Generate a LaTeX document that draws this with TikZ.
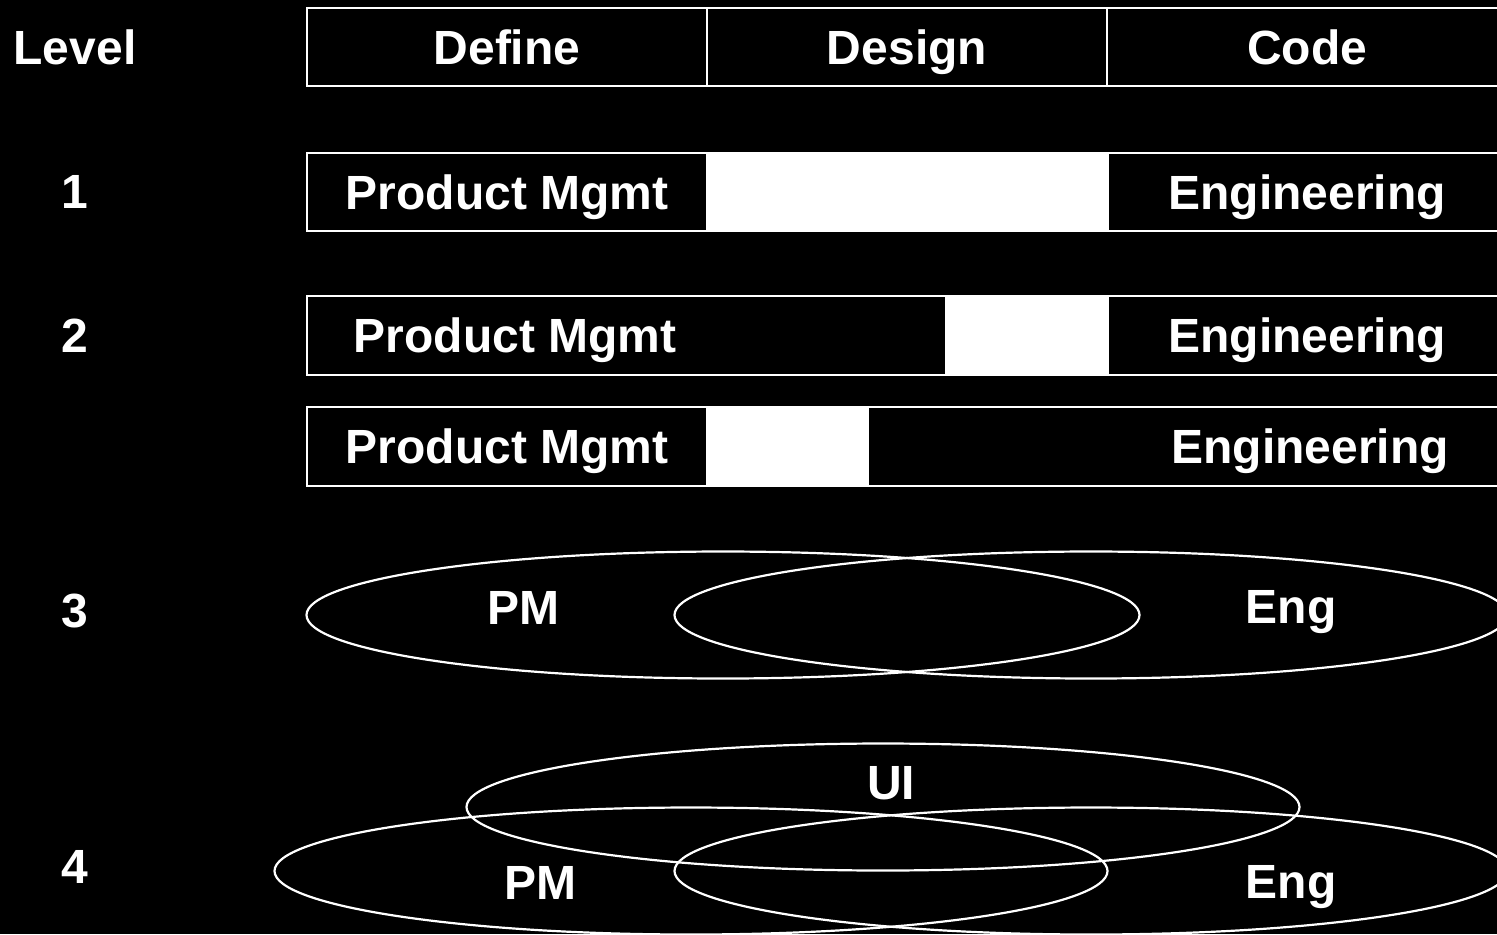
\documentclass[tikz,border=0pt]{standalone}
\usepackage{fontspec}
\setmainfont{Liberation Sans}
\begin{document}
\begin{tikzpicture}[x=0.5pt,y=-0.5pt,
  line width=0.9pt,
  outline/.style={draw=white},
  gap/.style={draw=white,fill=white},
  label/.style={text=white,font=\fontsize{24}{28}\selectfont\bfseries,anchor=base,inner sep=0pt},
  ring/.style={draw=white,line width=1.1pt,x radius=208.25pt,y radius=31.75pt}]
  % page and background
  \fill[black] (0,0) rectangle (1497,934);
  \useasboundingbox (0,0) rectangle (1497,934);
  \clip (0,0) rectangle (1497,934);

  % header row
  \draw[outline] (307,8) rectangle (707,86);
  \draw[outline] (707,8) rectangle (1107,86);
  \draw[outline] (1107,8) rectangle (1520,86);
  \node[label] (lvl) at (75,64) {Level};
  \node[label] (hdef) at (507,64) {Define};
  \node[label] (hdes) at (907,64) {Design};
  \node[label] (hcod) at (1307,64) {Code};

  % level 1
  \draw[outline] (307,153) rectangle (707,231);
  \draw[gap] (707,153) rectangle (1108,231);
  \draw[outline] (1108,153) rectangle (1520,231);
  \node[label] (n1) at (75,208) {1};
  \node[label] (pm1) at (507,209) {Product Mgmt};
  \node[label] (eng1) at (1307,209) {Engineering};

  % level 2, first variant
  \draw[outline] (307,296) rectangle (946,375);
  \draw[gap] (946,296) rectangle (1108,375);
  \draw[outline] (1108,296) rectangle (1520,375);
  \node[label] (n2) at (75,352) {2};
  \node[label] (pm2a) at (515,352) {Product Mgmt};
  \node[label] (eng2a) at (1307,352) {Engineering};

  % level 2, second variant
  \draw[outline] (307,407) rectangle (707,486);
  \draw[gap] (707,407) rectangle (868,486);
  \draw[outline] (868,407) rectangle (1520,486);
  \node[label] (pm2b) at (507,463) {Product Mgmt};
  \node[label] (eng2b) at (1310,463) {Engineering};

  % level 3: two overlapping ellipses
  \draw[ring] (723,615) ellipse [];
  \draw[ring] (1091,615) ellipse [];
  \node[label] (n3) at (75,627) {3};
  \node[label] (pm3) at (523,624) {PM};
  \node[label] (eng3) at (1291,623) {Eng};

  % level 4: three overlapping ellipses
  \draw[ring] (883,807) ellipse [];
  \draw[ring] (691,871) ellipse [];
  \draw[ring] (1091,871) ellipse [];
  \node[label] (n4) at (75,883) {4};
  \node[label] (ui4) at (891,799) {UI};
  \node[label] (pm4) at (540,899) {PM};
  \node[label] (eng4) at (1291,898) {Eng};
\end{tikzpicture}
\end{document}
